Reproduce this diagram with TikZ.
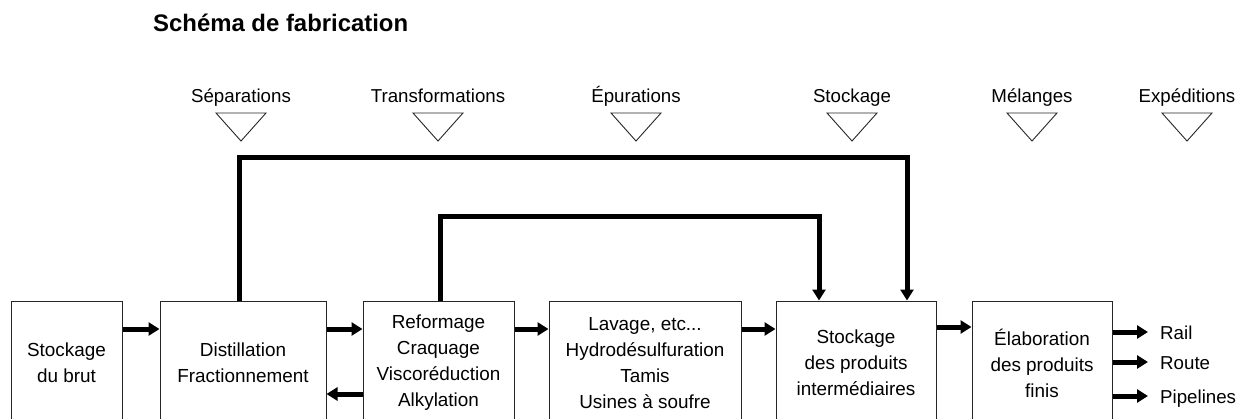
\documentclass[tikz,border=0pt]{standalone}
\usepackage{fontspec}
\setmainfont{Liberation Sans}
\usetikzlibrary{arrows.meta}
\begin{document}
\begin{tikzpicture}[x=1pt,y=-1pt,
  box/.style={draw=black!85, line width=1pt, minimum height=124pt, inner sep=0pt,
    align=center, font=\fontsize{18.9}{26}\selectfont},
  flow/.style={line width=5pt, line join=miter, -{Triangle[length=11pt,width=13pt]}},
  txt/.style={font=\fontsize{18.7}{22}\selectfont, inner sep=0pt},
  phase/.style={draw=black!85, line width=0.9pt, line join=miter}]
\useasboundingbox (0,0) rectangle (1245,418);
\clip (0,0) rectangle (1245,418);

% title
\node[anchor=base west, inner sep=0pt, font=\fontsize{23.9}{28}\selectfont\bfseries] (title) at (153,31) {Schéma de fabrication};

% phases with their markers
\foreach \x/\lab/\nm in {241/Séparations/p1, 438/Transformations/p2, 636/Épurations/p3,
                         852/Stockage/p4, 1032/Mélanges/p5, 1187/Expéditions/p6}{
  \node[txt, anchor=base] (\nm) at (\x,102) {\lab};
  \draw[phase] (\x-25,113) -- (\x+25,113) -- (\x,141) -- cycle;
}

% process units
\node[box, minimum width=111pt] (b1) at (66.5,363) {Stockage\\du brut};
\node[box, minimum width=166pt] (b2) at (243,363) {Distillation\\Fractionnement};
\node[box, minimum width=151pt] (b3) at (438.5,363) {Reformage\\Craquage\\Viscoréduction\\Alkylation};
\node[box, minimum width=192pt] (b4) at (645,363) {Lavage, etc...\\Hydrodésulfuration\\Tamis\\Usines à soufre};
\node[box, minimum width=160pt] (b5) at (856,363) {Stockage\\des produits\\intermédiaires};
\node[box, minimum width=140pt] (b6) at (1042,363) {Élaboration\\des produits\\finis};

% levels of the horizontal flows
\coordinate (h1) at (0,329);
\coordinate (h2) at (0,394);
\coordinate (h3) at (0,327);

\draw[flow] (b1.east |- h1) -- (b2.west |- h1);
\draw[flow] (b2.east |- h1) -- (b3.west |- h1);
\draw[flow] (b3.west |- h2) -- (b2.east |- h2);
\draw[flow] (b3.east |- h1) -- (b4.west |- h1);
\draw[flow] (b4.east |- h1) -- (b5.west |- h1);
\draw[flow] (b5.east |- h3) -- (b6.west |- h3);

% bypass lines to the intermediate storage
\coordinate (o1) at (239,157);
\coordinate (o2) at (907,157);
\coordinate (i1) at (440,216);
\coordinate (i2) at (819,216);
\draw[flow] (b2.north -| o1) -- (o1) -- (o2) -- (b5.north -| o2);
\draw[flow] (b3.north -| i1) -- (i1) -- (i2) -- (b5.north -| i2);

% shipping
\coordinate (ra) at (1148,332);
\coordinate (ro) at (1148,362);
\coordinate (pi) at (1148,396);
\node[txt, anchor=base west] (rail) at (1160,339) {Rail};
\node[txt, anchor=base west] (route) at (1160,369) {Route};
\node[txt, anchor=base west] (pipe) at (1160,403) {Pipelines};
\draw[flow] (b6.east |- ra) -- (ra);
\draw[flow] (b6.east |- ro) -- (ro);
\draw[flow] (b6.east |- pi) -- (pi);
\end{tikzpicture}
\end{document}
